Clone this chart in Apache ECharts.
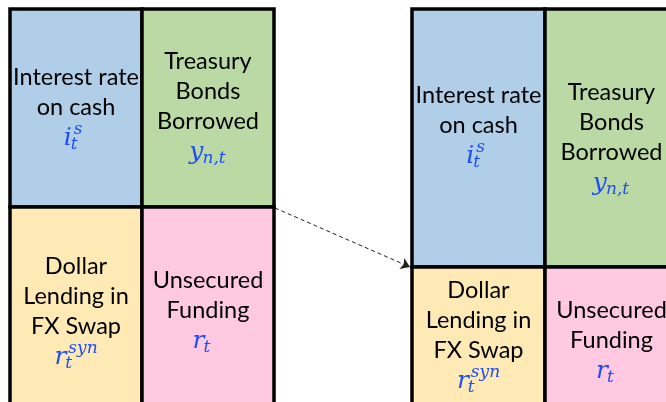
<!DOCTYPE html>
<html>
<head>
<meta charset="utf-8">
<script src="https://cdn.jsdelivr.net/npm/echarts@6/dist/echarts.min.js"></script>
<style>
  html, body { margin: 0; padding: 0; background: #fff; }
  #chart { width: 666px; height: 402px; }
</style>
</head>
<body>
<div id="chart"></div>
<script>
// 单元格文字（资产负债表的四个部分）
const cellNames = ['Interest rate\non cash', 'Treasury\nBonds\nBorrowed', 'Dollar\nLending in\nFX Swap', 'Unsecured\nFunding'];
// 对应的利率符号：底、下标、上标
const rateBase = ['i', 'y', 'r', 'r'];
const rateSub = ['t', 'n,t', 't', 't'];
const rateSup = ['s', '', 'syn', ''];
// 两张表：列边界和行边界（坐标轴单位）
const beforeCols = [10, 142, 274];
const beforeRows = [9, 207, 420];
const afterCols = [412, 545, 678];
const afterRows = [9, 267, 420];
// 虚线箭头：从左表分界线到右表分界线
const arrowFrom = [275, 208];
const arrowTo = [410, 267];

const cellColors = ['#b0cee8', '#bbd9a4', '#ffe9b5', '#ffc9e1'];
// 每个单元格第一行文字的位置（布局用）
const labelTop = [77, 61, 266, 280, 95, 92, 290, 310];
// 公式的水平微调
const mathShift = [-3, 0, 0, -6];

function buildCells(cols, rows) {
  return [
    [cols[0], rows[0], cols[1], rows[1], 0],
    [cols[1], rows[0], cols[2], rows[1], 1],
    [cols[0], rows[1], cols[1], rows[2], 2],
    [cols[1], rows[1], cols[2], rows[2], 3]
  ];
}
const cellData = buildCells(beforeCols, beforeRows).concat(buildCells(afterCols, afterRows));

const textFont = '23.5px Lato';
const mathFont = 'italic 25px "DejaVu Serif"';
const smallFont = 'italic 17px "DejaVu Serif"';
const mathColor = '#1f4ef5';

const ctx = document.createElement('canvas').getContext('2d');
function textWidth(str, font) {
  ctx.font = font;
  return ctx.measureText(str).width;
}

function renderCell(params, api) {
  const i = params.dataIndex;
  const kind = api.value(4);
  const p0 = api.coord([api.value(0), api.value(1)]);
  const p1 = api.coord([api.value(2), api.value(3)]);
  const children = [{
    type: 'rect',
    shape: {x: p0[0], y: p0[1], width: p1[0] - p0[0], height: p1[1] - p0[1]},
    style: {fill: cellColors[kind], stroke: '#000', lineWidth: 3.5}
  }];
  const cx = (p0[0] + p1[0]) / 2;
  const top = api.coord([0, labelTop[i]])[1];
  const lines = cellNames[kind].split('\n');
  lines.forEach(function (line, k) {
    children.push({
      type: 'text',
      x: cx, y: top + k * 30,
      style: {text: line, font: textFont, fill: '#000', align: 'center', verticalAlign: 'middle'}
    });
  });
  // 公式
  const baseline = top + lines.length * 30 + 9;
  const bw = textWidth(rateBase[kind], mathFont);
  const sw = textWidth(rateSub[kind], smallFont);
  const pw = rateSup[kind] ? textWidth(rateSup[kind], smallFont) + 2 : 0;
  const x0 = cx - (bw + Math.max(sw, pw)) / 2 + mathShift[kind];
  children.push({
    type: 'text', x: x0, y: baseline - 8,
    style: {text: rateBase[kind], font: mathFont, fill: mathColor, align: 'left', verticalAlign: 'middle'}
  });
  children.push({
    type: 'text', x: x0 + bw - 1, y: baseline - 1,
    style: {text: rateSub[kind], font: smallFont, fill: mathColor, align: 'left', verticalAlign: 'middle'}
  });
  if (rateSup[kind]) {
    children.push({
      type: 'text', x: x0 + bw + 2, y: baseline - 16,
      style: {text: rateSup[kind], font: smallFont, fill: mathColor, align: 'left', verticalAlign: 'middle'}
    });
  }
  return {type: 'group', children: children};
}

const chart = echarts.init(document.getElementById('chart'));
chart.setOption({
  animation: false,
  grid: {left: 0, right: 0, top: 0, bottom: 0},
  xAxis: {type: 'value', min: 0, max: 666, show: false},
  yAxis: {type: 'value', min: 0, max: 402, inverse: true, show: false},
  series: [
    {
      type: 'custom',
      renderItem: renderCell,
      data: cellData,
      clip: true
    },
    {
      type: 'lines',
      coordinateSystem: 'cartesian2d',
      symbol: ['none', 'arrow'],
      symbolSize: 9,
      lineStyle: {color: '#222', width: 1, type: [4, 3], opacity: 1},
      data: [{coords: [arrowFrom, arrowTo]}],
      z: 3
    }
  ]
});
</script>
</body>
</html>
